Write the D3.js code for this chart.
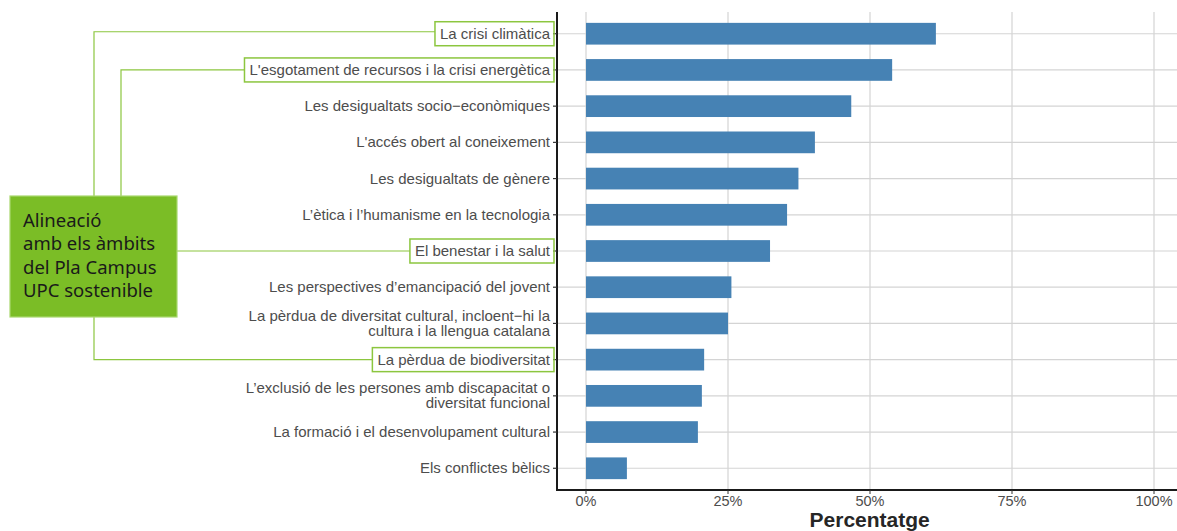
<!DOCTYPE html>
<html>
<head>
<meta charset="utf-8">
<script src="https://cdn.jsdelivr.net/npm/d3@7"></script>
<style>
  body { margin: 0; background: #fff; }
  svg { display: block; }
</style>
</head>
<body>
<div id="chart"></div>
<script>
// categories top to bottom, labels can have 2 lines
var categories = [
  ["La crisi climàtica"],
  ["L'esgotament de recursos i la crisi energètica"],
  ["Les desigualtats socio−econòmiques"],
  ["L'accés obert al coneixement"],
  ["Les desigualtats de gènere"],
  ["L’ètica i l’humanisme en la tecnologia"],
  ["El benestar i la salut"],
  ["Les perspectives d’emancipació del jovent"],
  ["La pèrdua de diversitat cultural, incloent−hi la", "cultura i la llengua catalana"],
  ["La pèrdua de biodiversitat"],
  ["L’exclusió de les persones amb discapacitat o", "diversitat funcional"],
  ["La formació i el desenvolupament cultural"],
  ["Els conflictes bèlics"]
];
var values = [0.616, 0.539, 0.467, 0.403, 0.374, 0.354, 0.324, 0.256, 0.250, 0.208, 0.204, 0.197, 0.072];
var xTicks = [0, 0.25, 0.5, 0.75, 1];
var highlighted = [0, 1, 6, 9];   // rows boxed in green
var calloutLines = ["Alineació", "amb els àmbits", "del Pla Campus", "UPC sostenible"];

var width = 1177, height = 531;
var panel = { left: 557, top: 12, bottom: 490 };

var svg = d3.select("#chart").append("svg")
    .attr("width", width)
    .attr("height", height);

var x = d3.scaleLinear().domain([0, 1]).range([586, 1154]);
var panelRight = x(1.05);

var y = d3.scalePoint()
    .domain(d3.range(categories.length))
    .range([panel.top, panel.bottom])
    .padding(0.6);
var barH = y.step() * 0.6;

var grid = "#d4d4d4";

// grid lines
svg.append("g").selectAll("line.v")
  .data(xTicks).enter().append("line")
    .attr("x1", d => x(d)).attr("x2", d => x(d))
    .attr("y1", panel.top).attr("y2", panel.bottom)
    .style("stroke", grid).style("stroke-width", 1.2);

svg.append("g").selectAll("line.h")
  .data(d3.range(categories.length)).enter().append("line")
    .attr("x1", panel.left).attr("x2", panelRight)
    .attr("y1", d => y(d)).attr("y2", d => y(d))
    .style("stroke", grid).style("stroke-width", 1.2);

// bars
svg.append("g").selectAll("rect")
  .data(values).enter().append("rect")
    .attr("x", x(0))
    .attr("y", (d, i) => y(i) - barH / 2)
    .attr("width", d => x(d) - x(0))
    .attr("height", barH)
    .attr("fill", "steelblue");

// axis lines
svg.append("line")
    .attr("x1", panel.left).attr("x2", panel.left)
    .attr("y1", panel.top).attr("y2", panel.bottom + 1)
    .style("stroke", "#1a1a1a").style("stroke-width", 2);
svg.append("line")
    .attr("x1", panel.left - 1).attr("x2", panelRight)
    .attr("y1", panel.bottom).attr("y2", panel.bottom)
    .style("stroke", "#1a1a1a").style("stroke-width", 2);

// x ticks
var xt = svg.append("g").selectAll("g")
  .data(xTicks).enter().append("g")
    .attr("transform", d => "translate(" + x(d) + "," + panel.bottom + ")");
xt.append("line").attr("y1", 0).attr("y2", 4)
    .style("stroke", "#333").style("stroke-width", 1);
xt.append("text")
    .attr("y", 16)
    .attr("text-anchor", "middle")
    .style("font-family", "Liberation Sans, Arial, sans-serif")
    .style("font-size", "14.5px")
    .style("fill", "#4d4d4d")
    .text(d => d3.format(".0%")(d));

svg.append("text")
    .attr("x", (panel.left + panelRight) / 2)
    .attr("y", 527)
    .attr("text-anchor", "middle")
    .style("font-family", "Liberation Sans, Arial, sans-serif")
    .style("font-size", "21px")
    .style("font-weight", "bold")
    .style("fill", "#262626")
    .text("Percentatge");

// y ticks and labels
var yt = svg.append("g").selectAll("g")
  .data(categories).enter().append("g")
    .attr("transform", (d, i) => "translate(" + panel.left + "," + y(i) + ")");
yt.append("line").attr("x1", -4).attr("x2", 0)
    .style("stroke", "#333").style("stroke-width", 1.2);

var labelX = -7;
yt.each(function(lines) {
  var t = d3.select(this).append("text")
      .attr("text-anchor", "end")
      .style("font-family", "Liberation Sans, Arial, sans-serif")
      .style("font-size", "15px")
      .style("fill", "#4d4d4d");
  var lh = 15;
  var off = -(lines.length - 1) * lh / 2 + 5;
  lines.forEach(function(s, k) {
    t.append("tspan").attr("x", labelX).attr("y", off + k * lh).text(s);
  });
});

// green boxes around highlighted labels
var green = "#8cc63f";
var boxes = [];
yt.filter((d, i) => highlighted.indexOf(i) >= 0).each(function(d, k) {
  var bb = d3.select(this).select("text").node().getBBox();
  var i = highlighted[k];
  var bx = panel.left + bb.x - 5, by = y(i) - 12;
  boxes.push({ i: i, x: bx, y: by });
  svg.append("rect")
      .attr("x", bx).attr("y", by)
      .attr("width", panel.left - 3 - bx).attr("height", 24)
      .attr("fill", "none")
      .style("stroke", green).style("stroke-width", 1.5);
});

// callout box
var cb = { x: 10, y: 196, w: 167, h: 121 };
var conn = svg.append("g").style("stroke", green).style("stroke-width", 1.2).style("fill", "none");
var stubX = [94, 121, null, 94];
boxes.forEach(function(b, k) {
  var yy = y(b.i) - (k === 0 ? 2 : 0);
  if (k === 2) {
    conn.append("path").attr("d", "M" + (cb.x + cb.w) + "," + yy + "H" + b.x);
  } else if (yy < cb.y) {
    conn.append("path").attr("d", "M" + b.x + "," + yy + "H" + stubX[k] + "V" + cb.y);
  } else {
    conn.append("path").attr("d", "M" + b.x + "," + yy + "H" + stubX[k] + "V" + (cb.y + cb.h));
  }
});

svg.append("rect")
    .attr("x", cb.x).attr("y", cb.y)
    .attr("width", cb.w).attr("height", cb.h)
    .attr("fill", "#7bbd26")
    .style("stroke", "#a9d86e").style("stroke-width", 1.2);

svg.append("g").selectAll("text")
  .data(calloutLines).enter().append("text")
    .attr("x", 23)
    .attr("y", (d, i) => 227 + i * 23.4)
    .style("font-family", "Noto Sans, sans-serif")
    .style("font-size", "18.5px")
    .style("fill", "#1a1a1a")
    .text(d => d);
</script>
</body>
</html>
